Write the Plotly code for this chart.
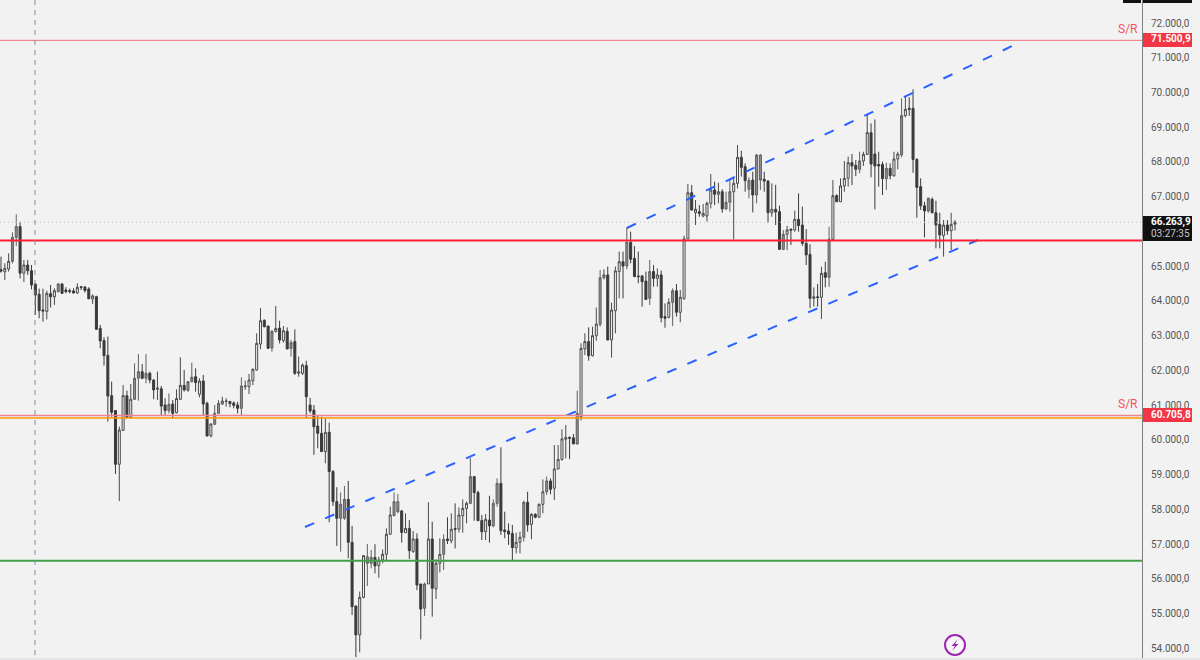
import plotly.graph_objects as go

opens = [64900,64840,64920,65140,65830,66140,64800,65035,64870,64490,
64190,63740,63700,64210,64120,64270,64490,64315,64295,64290,
64230,64410,64400,64345,64055,64125,63210,62860,62435,61275,
60845,59300,60275,61275,60650,61170,61775,61965,61775,61920,
61725,61460,61475,61005,60845,61035,60785,61170,61570,61420,
61680,61820,61315,61695,61055,60115,60450,60765,61035,61105,
61110,61065,61005,60910,61535,61535,61705,62015,62760,63443,
63280,62645,63125,63220,62860,63125,62635,62830,61920,61920,
62140,61005,60860,60400,60190,59665,60220,59090,58225,57745,
57745,58290,57055,55220,54390,55470,56640,56450,56620,56380,
56545,56710,57285,57820,58225,57955,57330,57455,56785,57150,
55855,55155,55855,57150,55710,56450,56710,57150,57100,57455,
57435,57820,58030,58175,58945,58485,57680,57360,57695,57525,
58175,58750,57410,57380,57310,56900,57055,57200,58205,57570,
57860,57775,58147,58510,58820,58610,59165,59440,60020,60075,
60060,59885,60670,62620,62830,62425,63000,63330,64670,64750,
62880,63720,64845,65130,65005,65690,65225,64720,64720,64575,
64075,64845,64650,64750,63550,63530,63960,64295,63675,64075,
65785,67115,66540,66570,66445,66445,66810,67195,67070,67145,
66650,66840,67145,67385,68135,67865,67215,67480,67050,68200,
67500,67450,66540,66640,66570,65485,65920,66070,66040,66350,
66185,65660,65340,64075,64120,64105,64815,64680,65775,67030,
66855,67310,67530,67980,67905,67790,68030,68220,68845,68230,
67930,67930,67520,67815,67605,68085,68200,69335,69545,69545,
68075,67290,66740,66590,66925,66540,66205,65880,66185,66020,66210]

highs = [65275,65085,65370,65975,66495,66280,65180,65180,65035,64510,
64355,64355,64295,64460,64365,64510,64510,64395,64355,64365,
64510,64430,64430,64395,64190,64150,63310,62955,62975,61680,
60860,60385,61580,61420,61610,62205,62475,62185,62475,61965,
61745,61965,61555,61200,61340,61150,61455,62380,62015,61695,
62225,62060,61775,61870,61100,60480,61005,61150,61245,61200,
61120,61110,61100,61800,61705,61900,62060,63070,63800,63470,
63280,63165,63855,63430,63280,63240,62880,63185,62400,62205,
62280,61215,61005,60720,60670,60620,60500,59135,58640,58490,
58675,58820,57525,55240,55635,56690,57005,56835,57000,56640,
56850,57455,58080,58485,58445,57985,57890,57695,57380,57315,
55855,55895,58205,57650,56565,57170,57285,57775,57890,58175,
58060,58290,58225,59490,58965,58540,57840,57870,58395,58290,
58895,59790,57935,57600,57555,57330,57360,58255,58510,57890,
57890,58175,58865,58945,58895,59855,59855,60305,60430,60100,
60170,61420,62780,63070,63240,63260,63810,64890,64910,64990,
63950,64990,65420,65420,66120,65995,65580,65420,64750,64845,
65180,65035,64940,64875,63930,64075,64365,64490,64315,65880,
67365,67340,66905,66760,66790,66860,67655,67435,67405,67215,
67145,67500,67560,68490,68325,67960,67560,67720,68230,68230,
67720,67480,67385,67340,66745,66045,66160,66070,66600,67095,
66715,66070,65630,64390,64490,64985,65130,66140,67480,67070,
67530,68030,68155,68230,68055,68295,68295,69380,69110,69225,
68295,68010,67980,67960,68295,68295,69830,69900,69860,70090,
68105,67530,66855,66980,66980,66885,66540,66330,66330,66540,66330]

lows = [64815,64600,64845,65080,65580,64650,64545,64750,64335,63596,
63500,63404,63470,63815,63885,64240,64200,64220,64220,64220,
64200,64315,64240,64050,63915,63165,62640,62140,60530,60670,
59020,58240,60265,60620,60620,61150,61130,61745,61630,61630,
61170,61150,60720,60720,60765,60620,60765,61150,61390,61390,
61650,61390,61225,60720,60105,60075,60430,60765,61005,60960,
60940,60910,60765,60720,61440,61320,61580,61995,62610,63240,
62620,62540,63090,62780,62800,62610,62400,61870,61820,61870,
60620,60765,59570,59760,59660,59330,57630,58100,56950,56785,
57700,56595,54960,53750,53890,55440,55795,56305,56160,56035,
56450,56495,57265,57810,57890,57045,57330,56575,56755,55680,
54260,54935,55855,54915,55425,56190,56255,57005,57025,56880,
57340,57330,57600,58155,57675,57675,57120,57120,57045,57485,
58080,57265,57170,56980,56525,56735,56735,57075,57360,57140,
57745,57775,57890,58415,58435,58270,59155,59405,59470,59450,
59885,59870,60560,62445,62280,62400,62855,63260,64620,62860,
62370,63070,64075,64075,64910,65085,64700,64510,63835,64030,
63885,64410,64410,63385,63230,63500,63280,63550,63385,64030,
65785,66600,66185,66425,66410,66285,66665,66760,66810,66540,
66620,66570,65775,67240,67580,67145,66955,66550,66810,67195,
67145,66255,66425,66185,65465,65465,65465,65610,65995,65995,
65590,65035,63790,63835,63835,63480,64390,64410,65755,66855,
66855,67145,67290,67335,67595,67675,67885,68200,67560,66635,
67290,67050,67195,67500,67575,67790,68135,69285,69325,67690,
66395,66620,65830,66540,66520,65515,65515,65275,65900,65465,66025]

closes = [64860,64940,65140,65830,66140,64800,65035,64870,64460,64170,
63720,63710,64220,64120,64295,64490,64220,64270,64270,64230,
64395,64395,64300,64065,64145,63185,62850,62425,61265,60795,
59300,60285,61275,60650,61170,61775,61965,61775,61920,61725,
61440,61490,60975,60845,61025,60765,61190,61570,61440,61680,
61805,61650,61695,61035,60115,60460,60765,61055,61120,61120,
61045,60995,60910,61553,61553,61725,62035,62780,63433,63260,
62637,63125,63210,62875,63145,62620,62800,61920,61960,62155,
61245,60835,60380,60190,59665,60220,59090,58225,57745,58150,
58290,57055,55200,54390,55470,56670,56450,56620,56375,56545,
56710,57285,57840,58225,57935,57340,57455,56815,57150,55825,
55135,55855,57150,55730,56450,56710,57140,57105,57430,57425,
57840,58030,58175,58945,58485,57675,57360,57715,57525,58175,
58750,57390,57360,57290,56900,57055,57200,58205,57555,57860,
57775,58147,58510,58820,58580,59165,59440,60030,60075,60050,
59885,60765,62635,62830,62425,63000,63335,64670,64750,62880,
63740,64865,65130,65005,65690,65200,64700,64700,64555,64045,
64845,64650,64750,63520,63500,63960,64295,63675,64105,65785,
67115,66620,66640,66520,66520,66810,67195,67070,67145,66650,
66840,67145,67385,68135,67845,67465,67465,67050,68200,67480,
67450,66540,66640,66560,65485,65920,66045,66040,66350,66170,
65660,65325,64075,64120,64100,64795,64680,65775,67030,66855,
67310,67530,67980,67885,67790,68030,68220,68845,67940,67885,
67885,67520,67815,67605,68085,68230,69335,69515,69515,68075,
67270,66740,66590,66955,66540,66185,65900,66185,66020,66205,66264]

# candles that render with a mid-grey body in the picture
grey_candles = [3,4,15,35,36,38,44,49,50,56,57,63,71,76,89,90,96,97,103,104,111,116,123,
                129,130,137,143,151,157,164,170,176,190,191,196,198,199,205,217,225,232,236,243]

tick_prices = [72000,71000,70000,69000,68000,67000,65000,64000,63000,62000,61000,60000,
               59000,58000,57000,56000,55000,54000]
tick_labels = ["72.000,0","71.000,0","70.000,0","69.000,0","68.000,0","67.000,0","65.000,0",
               "64.000,0","63.000,0","62.000,0","61.000,0","60.000,0","59.000,0","58.000,0",
               "57.000,0","56.000,0","55.000,0","54.000,0"]

sr_top = 71500.9
sr_mid = 60705.8
orange_level = 60630
red_level = 65740
green_level = 56525
last_price = 66263.9
cursor_bar = 8.9
lower_channel_x = [79.66, 256]
lower_channel_y = [57495, 65755]
upper_channel_x = [164, 265]
upper_channel_y = [66100, 71338]

W, H = 1142, 660
XMIN, XMAX = -0.262, 299.0
YMIN, YMAX = 53667, 72662
BG = "#f2f2f2"
RED = "#f23645"

def px(x):
    return x / W
def py(y):
    return 1 - y / H

xs = list(range(len(opens)))
grey = set(grey_candles)
main = [i for i in xs if i not in grey]
gidx = grey_candles

fig = go.Figure()
fig.add_trace(go.Candlestick(
    x=main, open=[opens[i] for i in main], high=[highs[i] for i in main],
    low=[lows[i] for i in main], close=[closes[i] for i in main],
    increasing=dict(line=dict(color="#4a4a4a", width=1), fillcolor="#f6f6f6"),
    decreasing=dict(line=dict(color="#3a3a3a", width=1), fillcolor="#3a3a3a"),
    whiskerwidth=0, hoverinfo="skip", showlegend=False))
fig.add_trace(go.Candlestick(
    x=gidx, open=[opens[i] for i in gidx], high=[highs[i] for i in gidx],
    low=[lows[i] for i in gidx], close=[closes[i] for i in gidx],
    increasing=dict(line=dict(color="#5f5f5f", width=1), fillcolor="#8f8f8f"),
    decreasing=dict(line=dict(color="#5f5f5f", width=1), fillcolor="#8f8f8f"),
    whiskerwidth=0, hoverinfo="skip", showlegend=False))

for xv, yv in ((lower_channel_x, lower_channel_y), (upper_channel_x, upper_channel_y)):
    fig.add_trace(go.Scatter(x=xv, y=yv, mode="lines", hoverinfo="skip", showlegend=False,
                             line=dict(color="#2962ff", width=2, dash="10px,11.88px")))

def hline(level, color, width, dash="solid"):
    fig.add_trace(go.Scatter(x=[XMIN, XMAX], y=[level, level], mode="lines", hoverinfo="skip",
                             showlegend=False, line=dict(color=color, width=width, dash=dash)))

hline(last_price, "#c4c4c4", 1, "1px,3px")
hline(sr_top, "#f0707c", 1)
hline(sr_mid, "#f0848e", 1.5)
hline(orange_level, "#ff9800", 1.5)
hline(red_level, "#ff1f30", 2)
hline(green_level, "#43a047", 2)

fig.add_trace(go.Scatter(x=[cursor_bar, cursor_bar], y=[YMAX, 53800], mode="lines", hoverinfo="skip",
                         showlegend=False, line=dict(color="#7f8c9b", width=1, dash="5px,5px")))

shapes = [
    dict(type="rect", xref="paper", yref="paper", x0=px(1143), x1=px(1192), y0=py(33), y1=py(47),
         fillcolor=RED, line_width=0),
    dict(type="rect", xref="paper", yref="paper", x0=px(1143), x1=px(1192), y0=py(408), y1=py(422),
         fillcolor=RED, line_width=0),
    dict(type="rect", xref="paper", yref="paper", x0=px(1143), x1=px(1192), y0=py(216), y1=py(241),
         fillcolor="#111111", line_width=0),
    dict(type="rect", xref="paper", yref="paper", x0=px(1143), x1=px(1192), y0=py(0), y1=py(3),
         fillcolor="#111111", line_width=0),
    dict(type="rect", xref="paper", yref="paper", x0=px(1123), x1=px(1141), y0=py(0), y1=py(3),
         fillcolor="#111111", line_width=0),
    dict(type="line", xref="paper", yref="paper", x0=0, x1=px(1200), y0=py(659), y1=py(659),
         line=dict(color="#e3e3ea", width=2)),
    dict(type="circle", xref="paper", yref="paper", x0=px(945), x1=px(965), y0=py(635), y1=py(655),
         fillcolor="#f7f7f7", line=dict(color="#9c27b0", width=2)),
    dict(type="path", xref="paper", yref="paper",
         path=f"M {px(958)} {py(639)} L {px(951.5)} {py(646)} L {px(955)} {py(646)} "
              f"L {px(952)} {py(651)} L {px(958.5)} {py(644)} L {px(955)} {py(644)} Z",
         fillcolor="#9c27b0", line_width=0),
]

FONT = "Roboto, sans-serif"
def label(x, y, text, color, size=10, weight="normal"):
    return dict(xref="paper", yref="paper", x=px(x), y=py(y), text=text, showarrow=False,
                xanchor="left", yanchor="middle", align="left",
                font=dict(family=FONT, size=size, color=color, weight=weight))

annotations = [
    label(1116, 29, "S/R", "#f7525f", 12),
    label(1116, 404, "S/R", "#f7525f", 12),
    label(1149, 39.5, "71.500,9", "#ffffff", 10, "bold"),
    label(1149, 414.5, "60.705,8", "#ffffff", 10, "bold"),
    label(1149, 222, "66.263,9", "#ffffff", 10, "bold"),
    label(1149, 233.5, "03:27:35", "#c8c8c8", 10),
]

fig.update_layout(
    width=1200, height=660, autosize=False,
    margin=dict(l=0, r=58, t=0, b=0, pad=0),
    paper_bgcolor=BG, plot_bgcolor=BG, showlegend=False, boxgap=0.25,
    hovermode=False,
    shapes=shapes, annotations=annotations,
    xaxis=dict(range=[XMIN, XMAX], visible=False, rangeslider=dict(visible=False),
               showgrid=False, zeroline=False),
    yaxis=dict(range=[YMIN, YMAX], side="right", tickmode="array", tickvals=tick_prices,
               ticktext=tick_labels, showgrid=False, zeroline=False, showline=True,
               linecolor="#808080", linewidth=1, ticks="", ticklabelstandoff=6,
               tickfont=dict(family=FONT, size=10, color="#555555")),
)
fig.write_html("out.html", config=dict(displayModeBar=False),
               post_script="document.body.style.margin='0';document.documentElement.style.overflow='hidden';")
